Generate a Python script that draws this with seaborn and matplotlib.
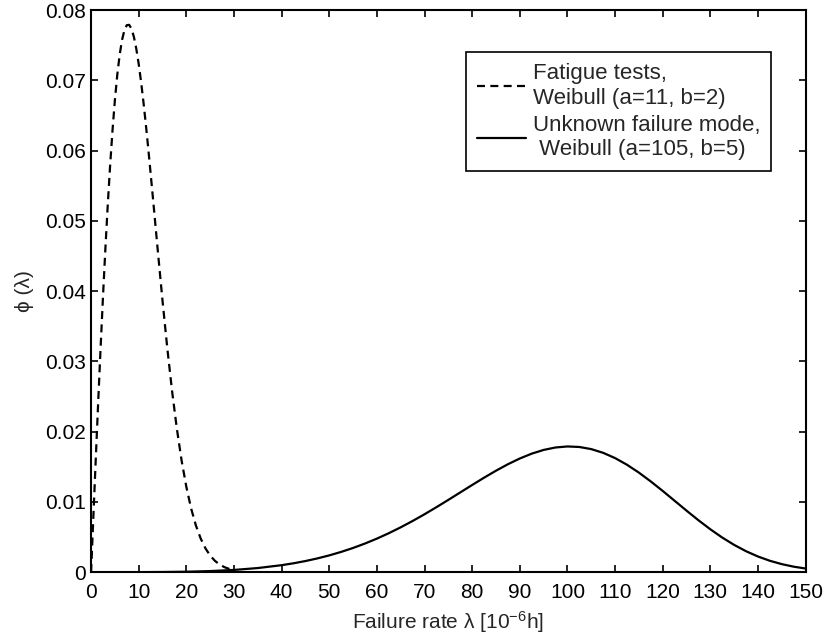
import numpy as np
import pandas as pd
import matplotlib
matplotlib.use("Agg")
import matplotlib.pyplot as plt
import seaborn as sns
from matplotlib.ticker import FuncFormatter

# Failure-rate densities phi(lambda), lambda in 1e-6 per hour
fatigue_x = [0, 0.5, 1, 1.5, 2, 2.5, 3, 3.5, 4, 4.5, 5, 5.5, 6, 6.5, 7, 7.5, 8,
             8.5, 9, 9.5, 10, 10.5, 11, 11.5, 12, 13, 14, 15, 16, 17, 18,
             19, 20, 21, 22, 23, 24, 25, 26, 27, 28, 29, 30]
fatigue_y = [0.0, 0.008247, 0.01639, 0.024336, 0.03198, 0.039242, 0.04603, 0.052281,
             0.05793, 0.062918, 0.06722, 0.070800, 0.07366, 0.07577, 0.07717, 0.077878,
             0.07792, 0.077329, 0.07617, 0.074481, 0.07233, 0.069779, 0.06689, 0.063719,
             0.06034, 0.05316, 0.04580, 0.03861,
             0.03188, 0.02579, 0.02045, 0.01590, 0.01213, 0.00907, 0.00666, 0.00480,
             0.00340, 0.00236, 0.00161, 0.00108, 0.00071, 0.00046, 0.00029]

unknown_x = [0, 5, 10, 15, 20, 25, 30, 35, 40, 42.5, 45, 47.5, 50, 52.5, 55, 57.5,
             60, 62.5, 65, 67.5, 70, 72.5, 75, 77.5, 80, 82.5, 85, 87.5, 90, 92.5,
             95, 97.5, 100, 102.5, 105, 107.5, 110, 112.5, 115, 117.5, 120, 122.5,
             125, 127.5, 130, 132.5, 135, 137.5, 140, 142.5, 145, 147.5, 150]
unknown_y = [0.0, 0.0000002, 0.0000039, 0.0000198, 0.0000627, 0.0001529, 0.0003167,
             0.0005855, 0.000995, 0.001264, 0.001583, 0.001957, 0.002389, 0.002885,
             0.003446, 0.004077, 0.004777, 0.005547, 0.006386, 0.007287, 0.008246,
             0.009252, 0.010292, 0.011353, 0.012413, 0.013452, 0.014445, 0.015365,
             0.016183, 0.016872, 0.017402, 0.017751, 0.017896, 0.017821, 0.017518,
             0.016988, 0.016240, 0.015290, 0.014169, 0.012911, 0.011562, 0.010160,
             0.008756, 0.007388, 0.006101, 0.004922, 0.003878, 0.002977, 0.002226,
             0.001618, 0.001141, 0.000780, 0.000517]

fatigue_label = "Fatigue tests,\nWeibull (a=11, b=2)"
unknown_label = "Unknown failure mode,\n Weibull (a=105, b=5)"

x_ticks = list(range(0, 151, 10))
y_ticks = [0, 0.01, 0.02, 0.03, 0.04, 0.05, 0.06, 0.07, 0.08]

df = pd.concat([
    pd.DataFrame({"rate": fatigue_x, "phi": fatigue_y, "mode": fatigue_label}),
    pd.DataFrame({"rate": unknown_x, "phi": unknown_y, "mode": unknown_label}),
], ignore_index=True)

FS = 15
sns.set_style("ticks")
plt.rcParams["font.family"] = ["Liberation Sans", "DejaVu Sans"]
plt.rcParams["font.size"] = FS
plt.rcParams["mathtext.fontset"] = "custom"
plt.rcParams["mathtext.rm"] = "Liberation Sans"
plt.rcParams["mathtext.it"] = "Liberation Sans"

fig = plt.figure(figsize=(8.28, 6.4), dpi=100)
ax = fig.add_axes([0.110, 0.106, 0.863, 0.878])

sns.lineplot(data=df, x="rate", y="phi", hue="mode", style="mode",
             palette=["black", "black"],
             dashes={fatigue_label: (3.6, 2.4), unknown_label: ""},
             linewidth=1.6, ax=ax, sort=False, estimator=None)

ax.set_xlim(0, 150)
ax.set_ylim(0, 0.08)
ax.set_xticks(x_ticks)
ax.set_yticks(y_ticks)
ax.yaxis.set_major_formatter(FuncFormatter(lambda v, p: "0" if abs(v) < 1e-12 else f"{v:.2f}"))
ax.xaxis.set_major_formatter(FuncFormatter(lambda v, p: f"{int(round(v))}"))

for s in ax.spines.values():
    s.set_visible(True)
    s.set_linewidth(1.5)
    s.set_color("black")
ax.tick_params(direction="in", length=5, width=1.2, top=True, right=True,
               labelsize=FS, colors="black")
ax.tick_params(axis="x", pad=8)
ax.tick_params(axis="y", pad=4)

ax.set_xlabel("Failure rate \u03bb [10$^{-6}$h]", fontsize=FS, labelpad=5)
ax.set_ylabel("\u03d5 (\u03bb)", fontsize=FS, labelpad=8)

handles, labels = ax.get_legend_handles_labels()
leg = ax.legend(handles, labels, loc="upper right", bbox_to_anchor=(0.952, 0.925),
                frameon=True, fancybox=False, framealpha=1, edgecolor="black",
                fontsize=16, handlelength=2.2, handletextpad=0.3,
                borderpad=0.5, labelspacing=0.28, borderaxespad=0)
leg.get_frame().set_linewidth(1.2)

fig.savefig("out.png", dpi=100, facecolor="white")
